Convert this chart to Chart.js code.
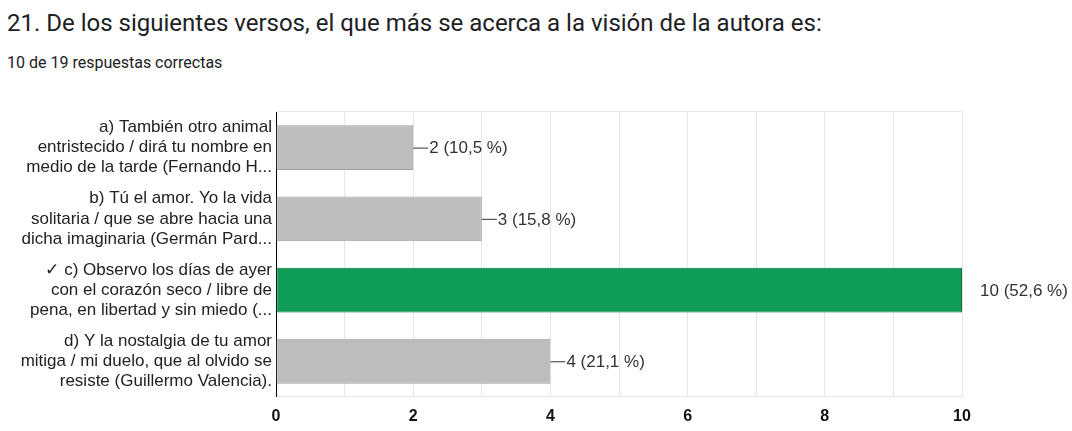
<!DOCTYPE html>
<html>
<head>
<meta charset="utf-8">
<script src="https://cdn.jsdelivr.net/npm/chart.js@4"></script>
<style>
  body { margin: 0; background: #fff; }
  #pagina { position: relative; width: 1072px; height: 431px; overflow: hidden; }
  #titulo { position: absolute; left: 7px; top: 11px; font: 24px/24px Roboto, sans-serif; color: #202124; white-space: nowrap; }
  #subtitulo { position: absolute; left: 7px; top: 55px; font: 16px/16px Roboto, sans-serif; color: #202124; }
  #grafico { position: absolute; left: 0; top: 0; }
</style>
</head>
<body>
<div id="pagina">
  <div id="titulo">21. De los siguientes versos, el que más se acerca a la visión de la autora es:</div>
  <div id="subtitulo">10 de 19 respuestas correctas</div>
  <canvas id="grafico" width="1072" height="431"></canvas>
</div>
<script>
/* Dados do gráfico */
const opciones = [
  ['a) También otro animal', 'entristecido / dirá tu nombre en', 'medio de la tarde (Fernando H...'],
  ['b) Tú el amor. Yo la vida', 'solitaria / que se abre hacia una', 'dicha imaginaria (Germán Pard...'],
  ['✓ c) Observo los días de ayer', 'con el corazón seco / libre de', 'pena, en libertad y sin miedo (...'],
  ['d) Y la nostalgia de tu amor', 'mitiga / mi duelo, que al olvido se', 'resiste (Guillermo Valencia).']
];
const respuestas = [2, 3, 10, 4];
const porcentajes = ['10,5 %', '15,8 %', '52,6 %', '21,1 %'];
const correcta = [false, false, true, false];
const ticksEixo = [0, 2, 4, 6, 8, 10];

const fonte = 'Liberation Sans, Arial, sans-serif';

/* Plugin para escrever o valor ao lado de cada barra */
const rotulosBarras = {
  id: 'rotulosBarras',
  afterDatasetsDraw(chart) {
    const ctx = chart.ctx;
    const meta = chart.getDatasetMeta(0);
    const maximo = chart.scales.x.max;
    ctx.save();
    ctx.font = '17px ' + fonte;
    ctx.fillStyle = '#333';
    ctx.textBaseline = 'middle';
    meta.data.forEach((barra, i) => {
      const texto = respuestas[i] + ' (' + porcentajes[i] + ')';
      if (respuestas[i] < maximo) {
        ctx.strokeStyle = '#333';
        ctx.lineWidth = 1;
        ctx.beginPath();
        ctx.moveTo(barra.x, barra.y + 0.5);
        ctx.lineTo(barra.x + 15, barra.y + 0.5);
        ctx.stroke();
        ctx.fillText(texto, barra.x + 16, barra.y + 1);
      } else {
        ctx.fillText(texto, barra.x + 18, barra.y + 1);
      }
    });
    ctx.restore();
  }
};

var ctx = document.getElementById('grafico');
var grafico = new Chart(ctx, {
  type: 'bar',
  data: {
    labels: opciones,
    datasets: [{
      data: respuestas,
      backgroundColor: correcta.map(c => c ? '#109d58' : '#bdbdbd'),
      borderColor: correcta.map(c => c ? '#0b6e3d' : '#a0a0a0'),
      borderWidth: 1,
      borderSkipped: false,
      barPercentage: 0.63,
      categoryPercentage: 1
    }]
  },
  options: {
    indexAxis: 'y',
    responsive: false,
    animation: false,
    layout: { padding: { top: 112, right: 110, left: 0, bottom: 0 } },
    plugins: {
      legend: { display: false },
      tooltip: { enabled: false }
    },
    scales: {
      x: {
        min: 0,
        max: 10,
        afterFit: escala => { escala.height = 26; },
        ticks: {
          stepSize: 1,
          padding: 10,
          color: '#111',
          font: { family: fonte, size: 16, weight: 'bold' },
          callback: v => ticksEixo.includes(v) ? v : ''
        },
        grid: {
          color: ctx => ctx.tick && ctx.tick.value === 0 ? '#000' : '#e6e6e6',
          drawTicks: false
        },
        border: { color: '#e6e6e6' }
      },
      y: {
        afterFit: escala => { escala.width = 276; },
        ticks: {
          padding: 4,
          color: '#222',
          font: { family: fonte, size: 17, lineHeight: 1.18 }
        },
        grid: {
          offset: true,
          drawTicks: false,
          color: ctx => ctx.index === 0 ? '#e6e6e6' : 'rgba(0,0,0,0)'
        },
        border: { color: '#000', width: 1 }
      }
    }
  },
  plugins: [rotulosBarras]
});
</script>
</body>
</html>
